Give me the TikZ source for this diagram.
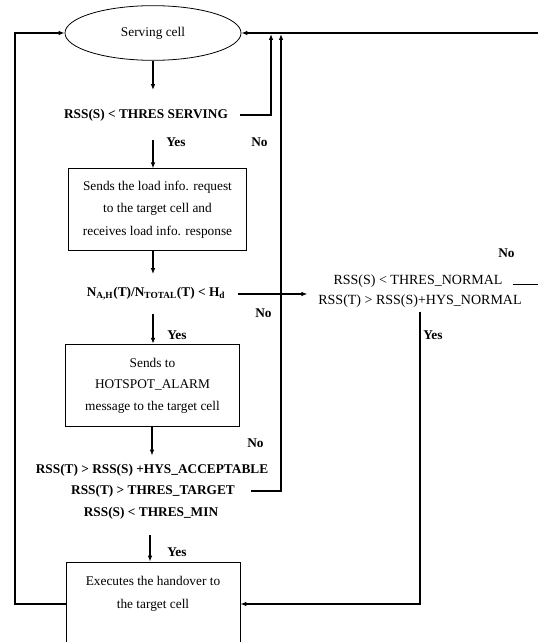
\documentclass[tikz,border=0pt]{standalone}
\usepackage{fontspec}
\setmainfont{Liberation Serif}
\usetikzlibrary{arrows.meta, shapes.geometric}

\begin{document}
\begin{tikzpicture}[x=0.75pt, y=-0.75pt,
    flow/.style={line width=1pt, -{Latex[length=4.5pt, width=3.5pt]}},
    procbox/.style={draw, line width=0.6pt, align=center, inner sep=0pt, font=\fontsize{10}{17}\selectfont},
    cond/.style={font=\bfseries\fontsize{10}{12}\selectfont, inner xsep=9pt, inner ysep=10pt},
    plaincond/.style={font=\fontsize{10.5}{12}\selectfont, inner xsep=8pt, inner ysep=3pt},
    answer/.style={font=\bfseries\fontsize{10}{12}\selectfont, anchor=west, inner sep=0pt}]
    \useasboundingbox (0,0) rectangle (538,642);
    \clip (0,0) rectangle (538,642);
    %%% Main column
    \node[draw, ellipse, line width=0.6pt, minimum width=132pt, minimum height=41pt, inner sep=0pt, font=\fontsize{10}{12}\selectfont] (serving) at (153,33) {Serving cell};
    \node[cond, inner ysep=14pt] (thserv) at (146,115) {RSS(S) < THRES SERVING};
    \node[procbox, minimum width=134pt, minimum height=61pt] (loadreq) at (157.5,209.5) {Sends the load info. request\\to the target cell and\\receives load info. response};
    \node[cond] (hotratio) at (156,294) {N\textsubscript{A,H}(T)/N\textsubscript{TOTAL}(T) < H\textsubscript{d}};
    \node[procbox, minimum width=130pt, minimum height=62pt, font=\fontsize{10}{16}\selectfont] (alarm) at (152.5,385.5) {Sends to\\HOTSPOT\_ALARM\\message to the target cell};
    \node[cond, inner ysep=6pt] (accept) at (152,470) {RSS(T) > RSS(S) +HYS\_ACCEPTABLE};
    \node[cond, inner ysep=2pt, inner xsep=12pt] (target) at (153,491) {RSS(T) > THRES\_TARGET};
    \node[cond, inner ysep=12pt] (thmin) at (151,513) {RSS(S) < THRES\_MIN};
    \node[procbox, minimum width=130.5pt, minimum height=63pt] (handover) at (153,604) {Executes the handover to\\the target cell\\\mbox{}};
    %
    %%% Normal handover test
    \node[plaincond] (normal1) at (418,281) {RSS(S) < THRES\_NORMAL};
    \node[plaincond] (normal2) at (420,301) {RSS(T) > RSS(S)+HYS\_NORMAL};
    %
    \coordinate (up1) at (271,34);
    \coordinate (up2) at (281,34);
    \coordinate (rimR) at (545,33);
    \coordinate (rimL) at (15,33);
    %
    %%% Connectors
    \draw[flow] (serving.south) -- (serving.south |- thserv.north);
    \draw[flow] (thserv.south -| serving) -- (loadreq.north -| serving);
    \draw[flow] (loadreq.south -| serving) -- (hotratio.north -| serving);
    \draw[flow] (hotratio.south -| serving) -- (alarm.north -| serving);
    \draw[flow] (alarm.south -| accept) -- (accept.north);
    \draw[flow] (thmin.south -| 150,0) -- (handover.north -| 150,0);
    %
    \draw[flow] (thserv.east) -| (up1);
    \draw[flow] (target.east) -| (up2);
    \draw[flow] (hotratio.east) -- (hotratio.east -| normal2.west);
    \draw[flow] (normal1.base east) -| (rimR) -- (serving.east);
    \draw[flow] (normal2.south) |- (handover.east);
    \draw[flow] (handover.west) -| (rimL) -- (serving.west);
    %
    %%% Answers
    \node[answer] (yes1) at (166,142) {Yes};
    \node[answer] (no1) at (251,142) {No};
    \node[answer] (no2) at (255,313) {No};
    \node[answer] (yes2) at (167,335) {Yes};
    \node[answer] (no3) at (247,443) {No};
    \node[answer] (yes3) at (167,552) {Yes};
    \node[answer] (yes4) at (423,335) {Yes};
    \node[answer] (no4) at (498,253) {No};
\end{tikzpicture}
\end{document}
